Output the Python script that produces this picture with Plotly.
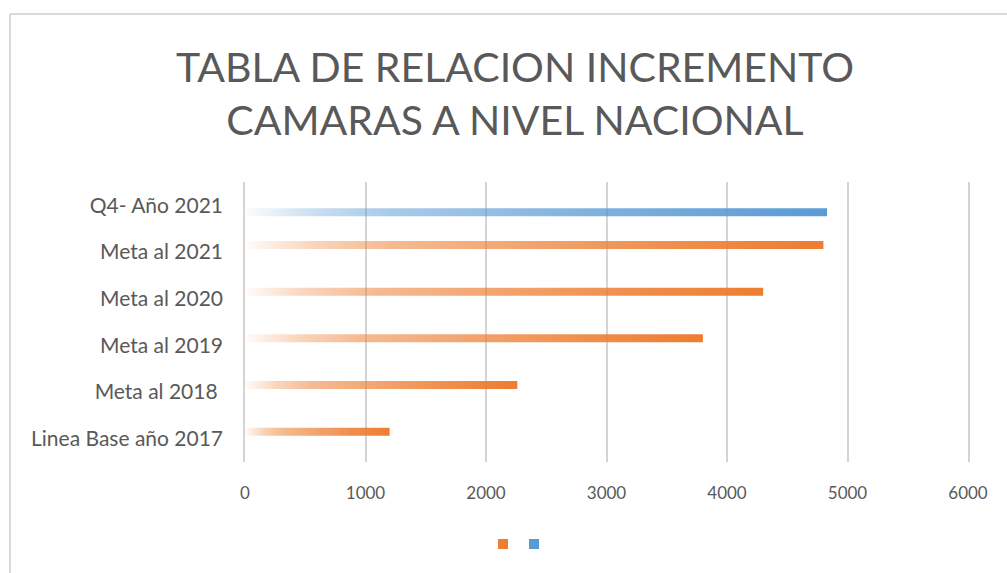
import plotly.graph_objects as go

# ---------------------------
#  Datos
# ---------------------------

categorias = [
    "Linea Base año 2017",
    "Meta al 2018\u00a0",
    "Meta al 2019",
    "Meta al 2020",
    "Meta al 2021",
    "Q4- Año 2021",
]
metas  = [1200, 2260, 3800, 4300, 4800, None]
avance = [None, None, None, None, None, 4830]
ticks_x = [0, 1000, 2000, 3000, 4000, 5000, 6000]

NARANJA = (237, 125, 49)
AZUL    = (91, 155, 213)
GRIS    = "#595959"
GRID    = "#d4d4d4"
FUENTE  = "Lato, 'Liberation Sans', sans-serif"

W, H = 1007, 573
L, R, T, B = 245, 39, 182, 111


def rgb_str(rgb):
    return "rgb({},{},{})".format(*rgb)


def degradado(rgb):
    # de casi transparente (izquierda) a color pleno (derecha)
    r, g, b = rgb
    paradas = [(0.0, 0.02), (0.12, 0.33), (0.25, 0.53), (0.5, 0.71), (0.75, 0.87), (1.0, 1.0)]
    return [[p, f"rgba({r},{g},{b},{a})"] for p, a in paradas]


def barra(i, valor, lado, rgb):
    # cada barra es un rectángulo relleno con degradado horizontal
    ancho   = 0.17
    desfase = 0.15
    yc = i + lado * desfase
    y0, y1 = yc - ancho / 2, yc + ancho / 2
    return go.Scatter(
        x = [0, valor, valor, 0, 0],
        y = [y0, y0, y1, y1, y0],
        mode = "lines",
        fill = "toself",
        line = dict(width = 0),
        fillgradient = dict(type = "horizontal", colorscale = degradado(rgb)),
        fillcolor = rgb_str(rgb),
        showlegend = False,
        hovertemplate = f"{categorias[i]}: {valor}<extra></extra>",
    )


fig = go.Figure()

for i, v in enumerate(metas):
    if v is not None:
        fig.add_trace(barra(i, v, +1, NARANJA))

for i, v in enumerate(avance):
    if v is not None:
        fig.add_trace(barra(i, v, -1, AZUL))

ancho_plot = W - L - R
alto_plot  = H - T - B
px_x = lambda p: (p - L) / ancho_plot
px_y = lambda p: 1 - (p - T) / alto_plot

# entradas de leyenda (sin nombre, como en el original), una leyenda por serie
for leyenda, rgb in (("legend", NARANJA), ("legend2", AZUL)):
    fig.add_trace(
        go.Scatter(
            x = [None], y = [None],
            mode = "markers",
            marker = dict(symbol = "square", size = 10, color = rgb_str(rgb)),
            name = " ",
            showlegend = True,
            legend = leyenda,
        )
    )

estilo_leyenda = dict(
    orientation = "h",
    xanchor = "left",
    yanchor = "middle",
    y = px_y(544),
    font = dict(size = 12),
    itemwidth = 30,
    bgcolor = "rgba(0,0,0,0)",
)

# marco del gráfico (solo se ven los bordes izquierdo y superior)
fig.add_shape(type = "line", xref = "paper", yref = "paper",
              x0 = px_x(10), x1 = px_x(10), y0 = px_y(14), y1 = px_y(H + 5),
              line = dict(color = "#d9d9d9", width = 2))
fig.add_shape(type = "line", xref = "paper", yref = "paper",
              x0 = px_x(10), x1 = px_x(W + 5), y0 = px_y(14), y1 = px_y(14),
              line = dict(color = "#d9d9d9", width = 2))

fig.update_layout(
    width = W,
    height = H,
    margin = dict(l = L, r = R, t = T, b = B),
    paper_bgcolor = "white",
    plot_bgcolor = "white",
    font = dict(family = FUENTE, color = GRIS),
    title = dict(
        text = "TABLA DE RELACION INCREMENTO<br>CAMARAS A NIVEL NACIONAL",
        x = 515 / W,
        xanchor = "center",
        y = 1 - 82 / H,
        yanchor = "middle",
        font = dict(size = 41, color = GRIS, family = FUENTE),
    ),
    xaxis = dict(
        range = [0, 6000],
        tickvals = ticks_x,
        showgrid = True,
        gridcolor = GRID,
        gridwidth = 1.5,
        zeroline = False,
        showline = False,
        ticks = "",
        ticklabelstandoff = 19,
        tickfont = dict(size = 17, color = GRIS),
        fixedrange = True,
    ),
    yaxis = dict(
        range = [-0.5, len(categorias) - 0.5],
        tickvals = list(range(len(categorias))),
        ticktext = categorias,
        showgrid = False,
        zeroline = False,
        showline = True,
        mirror = True,
        linecolor = GRID,
        linewidth = 1.5,
        ticks = "",
        ticklabelstandoff = 16,
        tickfont = dict(size = 21, color = GRIS),
        fixedrange = True,
    ),
    legend = dict(estilo_leyenda, x = px_x(502 - 19)),
    legend2 = dict(estilo_leyenda, x = px_x(533 - 19)),
    showlegend = True,
)

fig.write_html(
    "out.html",
    config = {"displayModeBar": False},
    post_script = "document.body.style.margin = '0';",
)
